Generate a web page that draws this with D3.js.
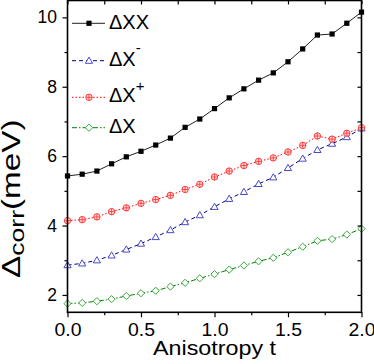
<!DOCTYPE html>
<html>
<head>
<meta charset="utf-8">
<script src="https://cdn.jsdelivr.net/npm/d3@7"></script>
<style>
  html, body { margin: 0; padding: 0; background: #fff; }
  svg { display: block; font-family: "Liberation Sans", Arial, sans-serif; }
</style>
</head>
<body>
<svg id="chart" width="374" height="364"></svg>
<script>
// anisotropy values along the x axis
const tValues = [0.0, 0.1, 0.2, 0.3, 0.4, 0.5, 0.6, 0.7, 0.8, 0.9, 1.0,
                 1.1, 1.2, 1.3, 1.4, 1.5, 1.6, 1.7, 1.8, 1.9, 2.0];

// correlation energies (meV)
const deltaXX = [5.43, 5.48, 5.57, 5.78, 5.98, 6.14, 6.32, 6.52, 6.83, 7.07, 7.37,
                 7.68, 7.94, 8.19, 8.40, 8.72, 9.09, 9.49, 9.52, 9.83, 10.15];
const deltaXminus = [2.86, 2.91, 3.00, 3.14, 3.31, 3.48, 3.67, 3.87, 4.10, 4.30, 4.54,
                     4.77, 4.97, 5.20, 5.39, 5.66, 5.93, 6.18, 6.36, 6.55, 6.80];
const deltaXplus = [4.14, 4.17, 4.25, 4.40, 4.51, 4.64, 4.75, 4.87, 5.04, 5.19, 5.40,
                    5.57, 5.73, 5.85, 5.95, 6.12, 6.31, 6.58, 6.49, 6.66, 6.82];
const deltaX = [1.75, 1.77, 1.82, 1.88, 1.97, 2.05, 2.12, 2.24, 2.35, 2.48, 2.60,
                2.73, 2.85, 2.97, 3.07, 3.23, 3.39, 3.56, 3.61, 3.74, 3.91];

const xTickLabels = [0, 0.5, 1.0, 1.5, 2.0];
const yTickLabels = [2, 4, 6, 8, 10];

const svg = d3.select('#chart');

const plotLeft = 67.5, plotRight = 361.5, plotTop = 0.5, plotBottom = 312.3;

const x = d3.scaleLinear().domain([0, 2]).range([plotLeft, plotRight]);
const y = d3.scaleLinear().domain([1.5, 10.5]).range([plotBottom, 0]);

// series styling
const series = [
  { name: 'XX', sup: '', values: deltaXX, line: '#222', dash: null, marker: 'square', mColor: '#000' },
  { name: 'X', sup: '-', values: deltaXminus, line: '#00008b', dash: '4,3', marker: 'triangle', mColor: '#4a4ac4' },
  { name: 'X', sup: '+', values: deltaXplus, line: '#ff0000', dash: '1.5,2', marker: 'circle', mColor: '#ff3b3b' },
  { name: 'X', sup: '', values: deltaX, line: '#008000', dash: '5,2,1.5,2', marker: 'diamond', mColor: '#3aa83a' }
];

function drawMarker(g, kind, color) {
  if (kind === 'square') {
    g.append('rect').attr('x', -2.6).attr('y', -2.6).attr('width', 5.2).attr('height', 5.2)
      .attr('fill', color);
  } else if (kind === 'triangle') {
    g.append('path').attr('d', 'M0,-3.6L3.6,2.6L-3.6,2.6Z')
      .attr('fill', '#fff').attr('stroke', color).attr('stroke-width', 1);
  } else if (kind === 'circle') {
    g.append('circle').attr('r', 3.2).attr('fill', '#ffdede').attr('stroke', color).attr('stroke-width', 1);
    g.append('path').attr('d', 'M-3.2,0H3.2M0,-3.2V3.2').attr('stroke', color).attr('stroke-width', 0.9);
  } else if (kind === 'diamond') {
    g.append('path').attr('d', 'M0,-3.6L3.6,0L0,3.6L-3.6,0Z')
      .attr('fill', '#fff').attr('stroke', color).attr('stroke-width', 1);
  }
}

const line = d3.line().x((d, i) => x(tValues[i])).y(d => y(d));

series.forEach(s => {
  svg.append('path')
    .datum(s.values)
    .attr('d', line)
    .attr('fill', 'none')
    .attr('stroke', s.line)
    .attr('stroke-width', 1)
    .attr('stroke-dasharray', s.dash);

  s.values.forEach((v, i) => {
    const g = svg.append('g').attr('transform', `translate(${x(tValues[i])},${y(v)})`);
    drawMarker(g, s.marker, s.mColor);
  });
});

// axes
const fontSize = 17.5;
const xAxisG = svg.append('g').attr('transform', `translate(0,${plotBottom})`)
  .call(d3.axisBottom(x).tickValues(xTickLabels).tickFormat(d3.format('.1f')).tickSize(5).tickPadding(6));
svg.append('g').attr('transform', `translate(0,${plotBottom})`)
  .call(d3.axisBottom(x).tickValues([0.25, 0.75, 1.25, 1.75]).tickFormat('').tickSize(3));
svg.append('g').attr('transform', `translate(${plotLeft},0)`)
  .call(d3.axisLeft(y).tickValues(yTickLabels).tickSize(5).tickPadding(5.5));
svg.append('g').attr('transform', `translate(${plotLeft},0)`)
  .call(d3.axisLeft(y).tickValues([3, 5, 7, 9]).tickFormat('').tickSize(3));
// mirrored ticks on top and right, pointing inward
svg.append('g').attr('transform', `translate(0,${plotTop})`)
  .call(d3.axisBottom(x).tickValues(d3.range(0, 2.01, 0.25)).tickFormat('').tickSize(4));
svg.append('g').attr('transform', `translate(${plotRight},0)`)
  .call(d3.axisLeft(y).tickValues(d3.range(2, 10.01, 1)).tickFormat('').tickSize(4));

svg.selectAll('.domain').remove();
svg.selectAll('.tick line').attr('stroke', '#000').attr('stroke-width', 1.2);
svg.selectAll('.tick text')
  .attr('fill', '#000')
  .style('font-size', fontSize + 'px')
  .style('font-family', '"Liberation Sans", Arial, sans-serif');
// x tick labels are drawn a little wider in the original
xAxisG.selectAll('.tick text').attr('textLength', 27).attr('lengthAdjust', 'spacingAndGlyphs');

svg.append('rect')
  .attr('x', plotLeft).attr('y', plotTop)
  .attr('width', plotRight - plotLeft).attr('height', plotBottom - plotTop)
  .attr('fill', 'none').attr('stroke', '#000').attr('stroke-width', 1.6);

// axis titles
svg.append('text')
  .attr('x', (plotLeft + plotRight) / 2).attr('y', 355)
  .attr('text-anchor', 'middle')
  .attr('textLength', 123).attr('lengthAdjust', 'spacingAndGlyphs')
  .style('font-size', '21px')
  .text('Anisotropy t');

// y title: glyphs are stretched along the text direction in the original
const yTitle = svg.append('text')
  .attr('transform', 'translate(20,278) rotate(-90) scale(1.33,1)')
  .style('font-size', '25px');
yTitle.append('tspan').text('Δ');
yTitle.append('tspan').attr('dy', 4).style('font-size', '20px').text('corr');
yTitle.append('tspan').attr('dy', -4).text('(meV)');

// legend
const legendRows = [
  { my: 23.3, base: 29 },
  { my: 60.7, base: 65.7 },
  { my: 97.3, base: 101.7 },
  { my: 127.7, base: 133 }
];
series.forEach((s, i) => {
  const r = legendRows[i];
  svg.append('line')
    .attr('x1', 72).attr('x2', 105).attr('y1', r.my).attr('y2', r.my)
    .attr('stroke', s.line).attr('stroke-width', 1).attr('stroke-dasharray', s.dash);
  drawMarker(svg.append('g').attr('transform', `translate(89,${r.my})`), s.marker, s.mColor);
  const t = svg.append('text').attr('x', 109).attr('y', r.base).style('font-size', '20px');
  t.append('tspan').text('Δ' + s.name);
  if (s.sup) {
    t.append('tspan').attr('dy', s.sup === '+' ? -11 : -13)
      .style('font-size', '15px').text(s.sup);
  }
});
</script>
</body>
</html>
